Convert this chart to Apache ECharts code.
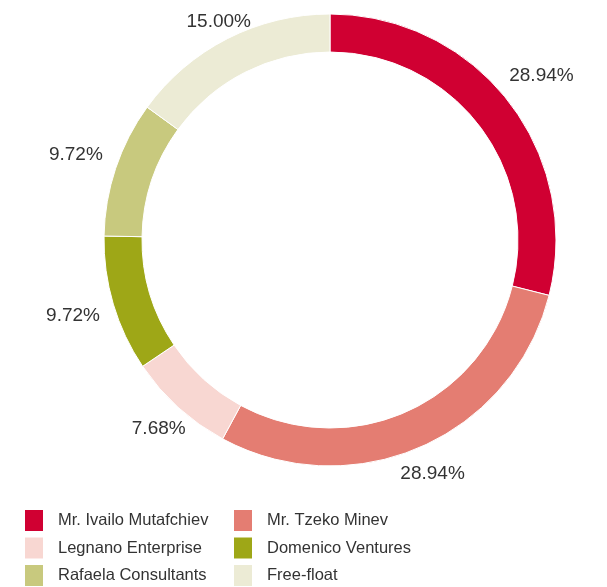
<!DOCTYPE html>
<html>
<head>
<meta charset="utf-8">
<script src="https://cdn.jsdelivr.net/npm/echarts@6/dist/echarts.min.js"></script>
<style>
  html, body { margin: 0; padding: 0; background: #fff; overflow: hidden; }
  #chart { width: 607px; height: 587px; }
</style>
</head>
<body>
<div id="chart"></div>
<script>
const holders = ['Mr. Ivailo Mutafchiev', 'Mr. Tzeko Minev', 'Legnano Enterprise',
  'Domenico Ventures', 'Rafaela Consultants', 'Free-float'];
const shares = [28.94, 28.94, 7.68, 9.72, 9.72, 15.00];
const colors = ['#D00032', '#E47D72', '#F8D7D2', '#9EA717', '#C8C97E', '#ECEBD5'];

const leftColumn = [holders[0], holders[2], holders[4]];
const rightColumn = [holders[1], holders[3], holders[5]];

// which label ring each slice's percentage goes on (0 = outermost)
const labelRingOf = [0, 1, 1, 0, 0, 2];

const font = '"Liberation Sans", Arial, sans-serif';

const chart = echarts.init(document.getElementById('chart'));

const legendBase = {
  orient: 'vertical',
  top: 508,
  height: 100,
  padding: 0,
  icon: 'rect',
  itemWidth: 20,
  itemHeight: 23,
  itemGap: 2.5,
  selectedMode: false,
  textStyle: { color: '#333', fontSize: 16.5, fontFamily: font, padding: [0, 0, 0, 9] }
};

// invisible ring used only to place the percentage labels
function labelRing(radius, ring) {
  return {
    type: 'pie',
    center: [330, 240],
    radius: radius,
    startAngle: 90,
    silent: true,
    itemStyle: { color: 'rgba(0,0,0,0)' },
    labelLine: { show: false },
    label: {
      position: 'inside',
      color: '#333',
      fontSize: 19,
      fontFamily: font,
      formatter: p => shares[p.dataIndex].toFixed(2) + '%'
    },
    data: shares.map((v, i) => ({
      name: '',
      value: v,
      label: { show: labelRingOf[i] === ring }
    }))
  };
}

chart.setOption({
  animation: false,
  color: colors,
  legend: [
    Object.assign({}, legendBase, { left: 23, data: leftColumn }),
    Object.assign({}, legendBase, { left: 232, data: rightColumn })
  ],
  series: [
    {
      type: 'pie',
      center: [330, 240],
      radius: [188, 226],
      startAngle: 90,
      silent: true,
      label: { show: false },
      labelLine: { show: false },
      itemStyle: { borderColor: '#fff', borderWidth: 1 },
      data: holders.map((h, i) => ({ name: h, value: shares[i] }))
    },
    labelRing([255, 275], 0),
    labelRing([242, 262], 1),
    labelRing([232, 252], 2)
  ]
});
</script>
</body>
</html>
